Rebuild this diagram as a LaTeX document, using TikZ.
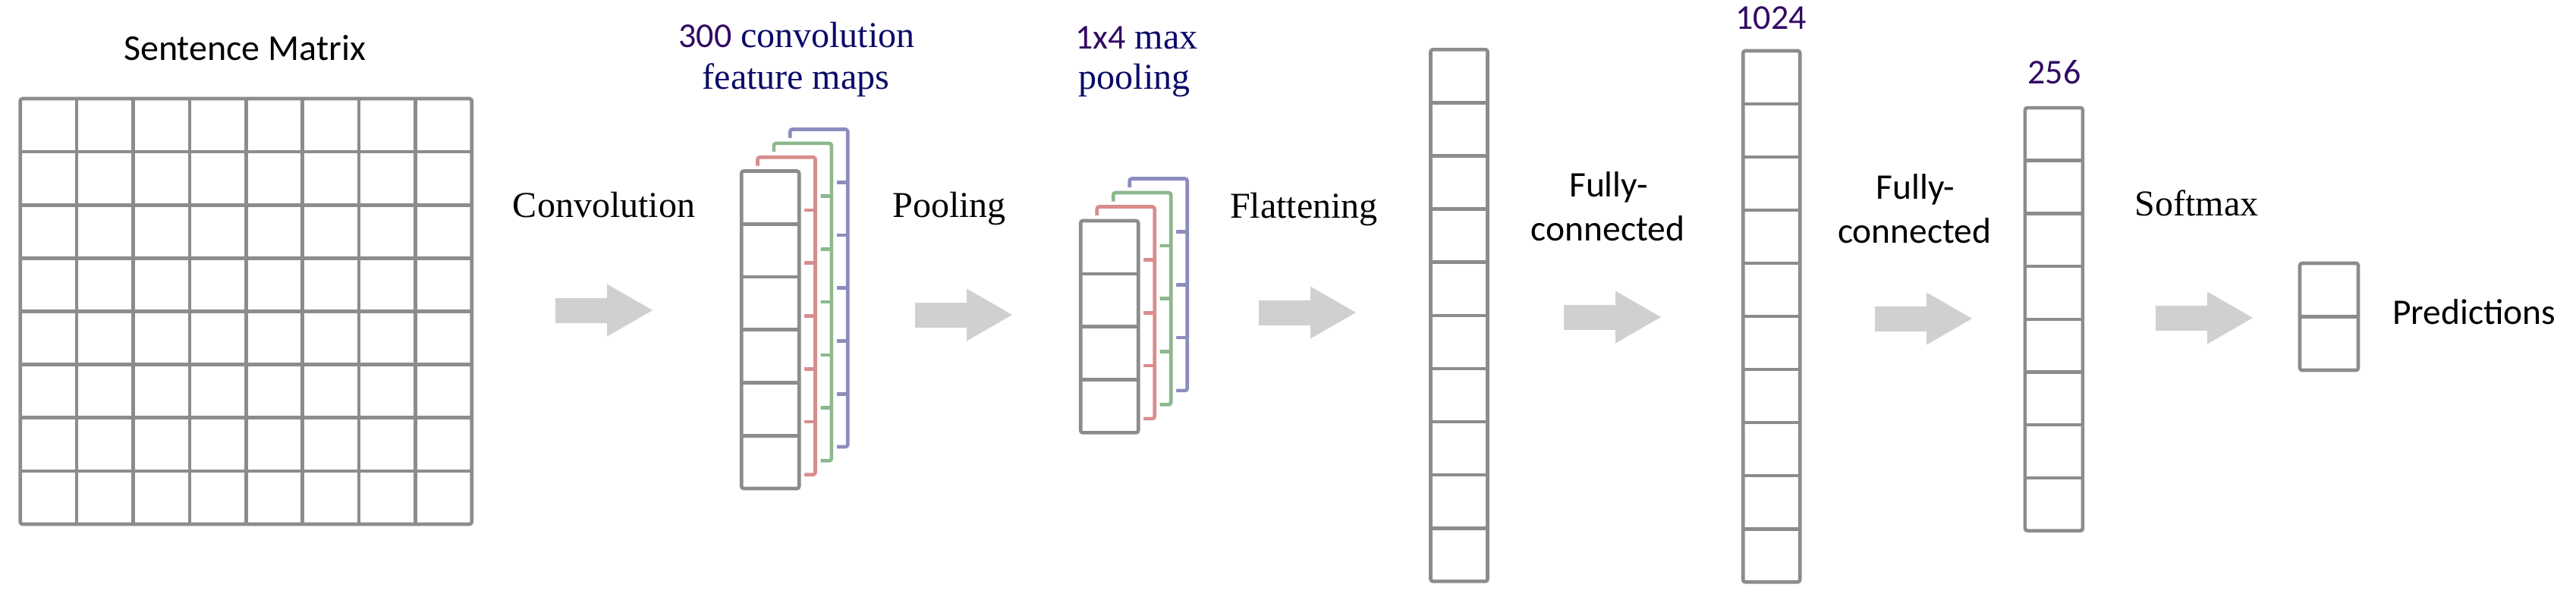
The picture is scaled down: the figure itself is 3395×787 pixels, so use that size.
\documentclass[tikz,border=0pt]{standalone}
\usepackage{fontspec}
\setmainfont{Liberation Serif}
\newfontfamily\calfont{Carlito}
\usetikzlibrary{calc,arrows.meta}
\definecolor{linegray}{RGB}{140,140,140}
\definecolor{arrowgray}{RGB}{208,208,208}
\definecolor{numpurple}{RGB}{50,10,100}
\definecolor{navytext}{RGB}{10,10,105}
\definecolor{layerred}{RGB}{218,140,140}
\definecolor{layergreen}{RGB}{140,184,140}
\definecolor{layerblue}{RGB}{140,140,190}
\newcommand\hdivs[4]{\foreach \i in {1,...,#2}{\draw[draw=#4, line width=4.6pt] ($(#1.north west)!\i/#3!(#1.south west)$) -- ($(#1.north east)!\i/#3!(#1.south east)$);}}
\newcommand\vdivs[4]{\foreach \i in {1,...,#2}{\draw[draw=#4, line width=4.6pt] ($(#1.north west)!\i/#3!(#1.north east)$) -- ($(#1.south west)!\i/#3!(#1.south east)$);}}
\begin{document}
\begin{tikzpicture}[x=1pt,y=-1pt,
  colbox/.style={draw=linegray, line width=4.6pt, rounded corners=3pt, fill=white, inner sep=0pt, outer sep=0pt, minimum width=76pt},
  layer/.style={colbox, draw=#1, preaction={draw=white, line width=14pt}},
  lbl/.style={anchor=base, inner sep=0pt, outer sep=0pt},
  serifl/.style={font=\fontsize{48}{58}\selectfont},
  sansl/.style={font=\calfont\fontsize{47.5}{57}\selectfont},
  blockarr/.style={draw=arrowgray, line width=33pt, -{Triangle[length=60pt, width=69pt, line width=0pt, fill=arrowgray]}},
]
\fill[white] (0,0) rectangle (3395,787);
\useasboundingbox (0,0) rectangle (3395,787);

% ---- sentence matrix
\node[lbl, font=\calfont\fontsize{48}{58}\selectfont] (tsm) at (322.5,79) {Sentence Matrix};
\node[colbox, minimum width=595, minimum height=561] (sm) at (324.2,410.5) {};
\hdivs{sm}{7}{8}{linegray}
\vdivs{sm}{7}{8}{linegray}

% ---- convolution
\node[lbl, serifl] (tconv) at (796,286) {Convolution};
\coordinate (a1s) at (732,409); \coordinate (a1e) at (860,409);
\draw[blockarr] (a1s) -- (a1e);

\node[lbl, serifl, text=navytext] (tcfa) at (1050,62) {{\calfont\fontsize{46}{56}\selectfont\color{numpurple}300} convolution};
\node[lbl, serifl, text=navytext] (tcfb) at (1049,117.5) {feature maps};

\node[layer=layerblue, minimum height=418.5] (cb) at (1079.2,379.75) {};
\hdivs{cb}{5}{6}{layerblue}
\node[layer=layergreen, minimum height=418.5] (cg) at (1057.8,398.15) {};
\hdivs{cg}{5}{6}{layergreen}
\node[layer=layerred, minimum height=418.5] (cr) at (1036.5,416.45) {};
\hdivs{cr}{5}{6}{layerred}
\node[layer=linegray, minimum height=418.5] (cgr) at (1015.2,434.75) {};
\hdivs{cgr}{5}{6}{linegray}

% ---- pooling
\node[lbl, serifl] (tpool) at (1251,286) {Pooling};
\coordinate (a2s) at (1206,415); \coordinate (a2e) at (1334,415);
\draw[blockarr] (a2s) -- (a2e);

\node[lbl, serifl, text=navytext] (tmpa) at (1498,64) {{\calfont\fontsize{46}{56}\selectfont\color{numpurple}1x4} max};
\node[lbl, serifl, text=navytext] (tmpb) at (1495,117) {pooling};

\node[layer=layerblue, minimum height=279.4] (pb) at (1526.7,375.2) {};
\hdivs{pb}{3}{4}{layerblue}
\node[layer=layergreen, minimum height=279.4] (pg) at (1505.2,393.7) {};
\hdivs{pg}{3}{4}{layergreen}
\node[layer=layerred, minimum height=279.4] (pr) at (1483.7,412.2) {};
\hdivs{pr}{3}{4}{layerred}
\node[layer=linegray, minimum height=279.4] (pgr) at (1462.2,430.7) {};
\hdivs{pgr}{3}{4}{linegray}

% ---- flattening
\node[lbl, serifl] (tflat) at (1718.5,287) {Flattening};
\coordinate (a3s) at (1659,412); \coordinate (a3e) at (1787,412);
\draw[blockarr] (a3s) -- (a3e);
\node[colbox, minimum width=75, minimum height=701] (flat) at (1923,415.8) {};
\hdivs{flat}{9}{10}{linegray}

% ---- fully connected 1
\node[lbl, sansl] (tfa1) at (2120,259.5) {Fully-};
\node[lbl, sansl] (tfb1) at (2119,317.5) {connected};
\coordinate (a4s) at (2061,418); \coordinate (a4e) at (2189,418);
\draw[blockarr] (a4s) -- (a4e);
\node[lbl, font=\calfont\fontsize{46}{56}\selectfont, text=numpurple] (t1024) at (2334,38) {1024};
\node[colbox, minimum width=75, minimum height=700.3] (fc1) at (2334.7,417.1) {};
\hdivs{fc1}{9}{10}{linegray}

% ---- fully connected 2
\node[lbl, sansl] (tfa2) at (2524.5,262.5) {Fully-};
\node[lbl, sansl] (tfb2) at (2523.3,320.5) {connected};
\coordinate (a5s) at (2471,420); \coordinate (a5e) at (2599,420);
\draw[blockarr] (a5s) -- (a5e);
\node[lbl, font=\calfont\fontsize{46}{56}\selectfont, text=numpurple] (t256) at (2707.5,110.6) {256};
\node[colbox, minimum height=557.5] (fc2) at (2706.9,420.8) {};
\hdivs{fc2}{7}{8}{linegray}

% ---- softmax and predictions
\node[lbl, serifl] (tsoft) at (2895,284) {Softmax};
\coordinate (a6s) at (2841,419); \coordinate (a6e) at (2969,419);
\draw[blockarr] (a6s) -- (a6e);
\node[colbox, minimum width=77, minimum height=141] (pred) at (3069.5,417.5) {};
\hdivs{pred}{1}{2}{linegray}
\node[lbl, sansl, anchor=base west] (tpred) at (3153,427) {Predictions};
\end{tikzpicture}
\end{document}
